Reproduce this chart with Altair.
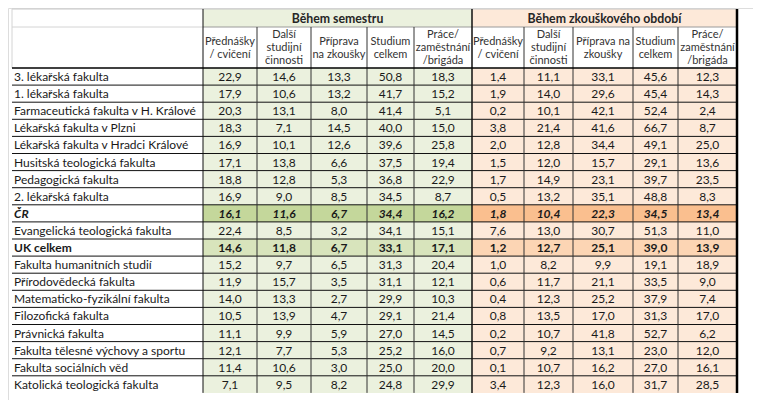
import altair as alt
import pandas as pd

# ---------------- data ----------------
names = ["3. lékařská fakulta", "1. lékařská fakulta", "Farmaceutická fakulta v H. Králové",
         "Lékařská fakulta v Plzni", "Lékařská fakulta v Hradci Králové", "Husitská teologická fakulta",
         "Pedagogická fakulta", "2. lékařská fakulta", "ČR", "Evangelická teologická fakulta",
         "UK celkem", "Fakulta humanitních studií", "Přírodovědecká fakulta",
         "Matematicko-fyzikální fakulta", "Filozofická fakulta", "Právnická fakulta",
         "Fakulta tělesné výchovy a sportu", "Fakulta sociálních věd", "Katolická teologická fakulta"]

sem_prednasky = [22.9, 17.9, 20.3, 18.3, 16.9, 17.1, 18.8, 16.9, 16.1, 22.4, 14.6, 15.2, 11.9, 14.0, 10.5, 11.1, 12.1, 11.4, 7.1]
sem_dalsi     = [14.6, 10.6, 13.1, 7.1, 10.1, 13.8, 12.8, 9.0, 11.6, 8.5, 11.8, 9.7, 15.7, 13.3, 13.9, 9.9, 7.7, 10.6, 9.5]
sem_priprava  = [13.3, 13.2, 8.0, 14.5, 12.6, 6.6, 5.3, 8.5, 6.7, 3.2, 6.7, 6.5, 3.5, 2.7, 4.7, 5.9, 5.3, 3.0, 8.2]
sem_celkem    = [50.8, 41.7, 41.4, 40.0, 39.6, 37.5, 36.8, 34.5, 34.4, 34.1, 33.1, 31.3, 31.1, 29.9, 29.1, 27.0, 25.2, 25.0, 24.8]
sem_prace     = [18.3, 15.2, 5.1, 15.0, 25.8, 19.4, 22.9, 8.7, 16.2, 15.1, 17.1, 20.4, 12.1, 10.3, 21.4, 14.5, 16.0, 20.0, 29.9]
zk_prednasky  = [1.4, 1.9, 0.2, 3.8, 2.0, 1.5, 1.7, 0.5, 1.8, 7.6, 1.2, 1.0, 0.6, 0.4, 0.8, 0.2, 0.7, 0.1, 3.4]
zk_dalsi      = [11.1, 14.0, 10.1, 21.4, 12.8, 12.0, 14.9, 13.2, 10.4, 13.0, 12.7, 8.2, 11.7, 12.3, 13.5, 10.7, 9.2, 10.7, 12.3]
zk_priprava   = [33.1, 29.6, 42.1, 41.6, 34.4, 15.7, 23.1, 35.1, 22.3, 30.7, 25.1, 9.9, 21.1, 25.2, 17.0, 41.8, 13.1, 16.2, 16.0]
zk_celkem     = [45.6, 45.4, 52.4, 66.7, 49.1, 29.1, 39.7, 48.8, 34.5, 51.3, 39.0, 19.1, 33.5, 37.9, 31.3, 52.7, 23.0, 27.0, 31.7]
zk_prace      = [12.3, 14.3, 2.4, 8.7, 25.0, 13.6, 23.5, 8.3, 13.4, 11.0, 13.9, 18.9, 9.0, 7.4, 17.0, 6.2, 12.0, 16.1, 28.5]

groups = ["Během semestru", "Během zkouškového období"]
headers_sem = ["Přednášky\n/ cvičení", "Další\nstudijní\nčinnosti", "Příprava\nna zkoušky",
               "Studium\ncelkem", "Práce/\nzaměstnání\n/brigáda"]
headers_zk = ["Přednášky\n/ cvičení", "Další\nstudijní\nčinnosti", "Příprava na\nzkoušky",
              "Studium\ncelkem", "Práce/\nzaměstnání\n/brigáda"]

# ---------------- layout ----------------
FONT = "Lato"
FS = 12
HFS = 11
LH = 13
LEFT, NAME_R, RIGHT = 12, 203, 737
col_edges = [203, 257, 311, 367, 414, 472, 524, 573, 633, 678, 737]
TOP, GRP_B, HDR_B = 9, 27, 68
ROW_H = 17.1
n = len(names)
row_top = [HDR_B + ROW_H * k for k in range(n)]
BOTTOM = HDR_B + ROW_H * n

value_cols = [sem_prednasky, sem_dalsi, sem_priprava, sem_celkem, sem_prace,
              zk_prednasky, zk_dalsi, zk_priprava, zk_celkem, zk_prace]

def fill_for(row_name, ci):
    sem = ci < 5
    if row_name == "ČR":
        return "#c4d79b" if sem else "#fabf8f"
    if row_name == "UK celkem":
        return "#d8e4bc" if sem else "#fcd5b4"
    return "#ebf1de" if sem else "#fde9d9"

def style_for(row_name):
    if row_name == "ČR":
        return "bi"
    if row_name == "UK celkem":
        return "b"
    return "n"

cells, vals, name_rows = [], [], []
for r, nm in enumerate(names):
    y0, y1 = row_top[r], row_top[r] + ROW_H
    name_rows.append(dict(x=LEFT + 2, y=(y0 + y1) / 2 + 0.5, t=nm, s=style_for(nm)))
    for ci, col in enumerate(value_cols):
        x0, x1 = col_edges[ci], col_edges[ci + 1]
        cells.append(dict(x0=x0, x1=x1, y0=y0, y1=y1, fill=fill_for(nm, ci)))
        vals.append(dict(x=(x0 + x1) / 2, y=(y0 + y1) / 2 + 0.5,
                         t=f"{col[r]:.1f}".replace(".", ","), s=style_for(nm)))

# header backgrounds
cells.append(dict(x0=col_edges[0], x1=col_edges[5], y0=TOP, y1=GRP_B, fill="#ebf1de"))
cells.append(dict(x0=col_edges[5], x1=col_edges[10], y0=TOP, y1=GRP_B, fill="#fde9d9"))

cells_df = pd.DataFrame(cells)
vals_df = pd.DataFrame(vals)
names_df = pd.DataFrame(name_rows)

hdr_rows = []
for ci, h in enumerate(headers_sem + headers_zk):
    nl = h.count("\n") + 1
    center = (GRP_B + HDR_B) / 2 + 0.5
    hdr_rows.append(dict(x=(col_edges[ci] + col_edges[ci + 1]) / 2,
                         y=center - (nl - 1) * LH / 2, t=h))
hdr_df = pd.DataFrame(hdr_rows)
grp_df = pd.DataFrame([
    dict(x=(col_edges[0] + col_edges[5]) / 2, y=(TOP + GRP_B) / 2 + 0.5, t=groups[0]),
    dict(x=(col_edges[5] + col_edges[10]) / 2, y=(TOP + GRP_B) / 2 + 0.5, t=groups[1]),
])

lines = []
def hl(y, x0, x1, c, w):
    lines.append(dict(x0=x0, x1=x1, y0=y, y1=y, c=c, w=w))
def vl(x, y0, y1, c, w):
    lines.append(dict(x0=x, x1=x, y0=y0, y1=y1, c=c, w=w))

hl(TOP, LEFT, RIGHT, "#c8c8c8", 1)
hl(GRP_B, LEFT, NAME_R, "#d4d4d4", 1)
hl(GRP_B, NAME_R, RIGHT, "#9a9a9a", 1)
for k in range(1, n):
    hl(row_top[k], LEFT, RIGHT, "#111111", 1)
vl(LEFT, TOP, HDR_B, "#d4d4d4", 1)
for ci in [1, 2, 3, 4, 6, 7, 8, 9]:
    vl(col_edges[ci], GRP_B, BOTTOM, "#333333", 1)
vl(NAME_R, TOP, BOTTOM, "#111111", 1)
vl(col_edges[5], TOP, BOTTOM, "#111111", 1.5)
hl(HDR_B, LEFT, RIGHT, "#000000", 1.6)
vl(RIGHT, TOP, BOTTOM, "#000000", 2.5)
lines_df = pd.DataFrame(lines)

# ---------------- chart ----------------
W, H = 745, 392
xs = alt.Scale(domain=[8, 8 + W], nice=False, zero=False)
ys = alt.Scale(domain=[8, 8 + H], nice=False, zero=False, reverse=True)
X = lambda f: alt.X(f, type="quantitative", scale=xs, axis=None)
Y = lambda f: alt.Y(f, type="quantitative", scale=ys, axis=None)

rects = alt.Chart(cells_df).mark_rect(strokeWidth=0).encode(
    x=X("x0"), x2="x1", y=Y("y0"), y2="y1", color=alt.Color("fill:N", scale=None))

rules = alt.Chart(lines_df).mark_rule().encode(
    x=X("x0"), x2="x1", y=Y("y0"), y2="y1",
    color=alt.Color("c:N", scale=None), strokeWidth=alt.StrokeWidth("w:Q", scale=None))

def text_layer(df, align, weight="normal", style="normal", fs=FS, color="#1a1a1a", lb=False):
    kw = dict(align=align, baseline="middle", font=FONT, fontSize=fs, fontWeight=weight,
              fontStyle=style, color=color)
    if lb:
        kw.update(lineBreak="\n", lineHeight=LH)
    return alt.Chart(df).mark_text(**kw).encode(x=X("x"), y=Y("y"), text="t:N")

layers = [rects, rules]
for s, (wt, st) in {"n": ("normal", "normal"), "b": ("bold", "normal"), "bi": ("bold", "italic")}.items():
    layers.append(text_layer(vals_df[vals_df.s == s], "center", wt, st))
    layers.append(text_layer(names_df[names_df.s == s], "left", wt, st))
layers.append(text_layer(hdr_df, "center", fs=HFS, color="#333333", lb=True))
layers.append(text_layer(grp_df, "center", "bold", fs=12.3, color="#262626"))

chart = alt.layer(*layers).properties(
    width=W, height=H, padding=0, autosize=alt.AutoSizeParams(type="none")
).configure_view(stroke=None).configure(background="white")

chart.save("out.html", embed_options={"renderer": "svg", "actions": False})
